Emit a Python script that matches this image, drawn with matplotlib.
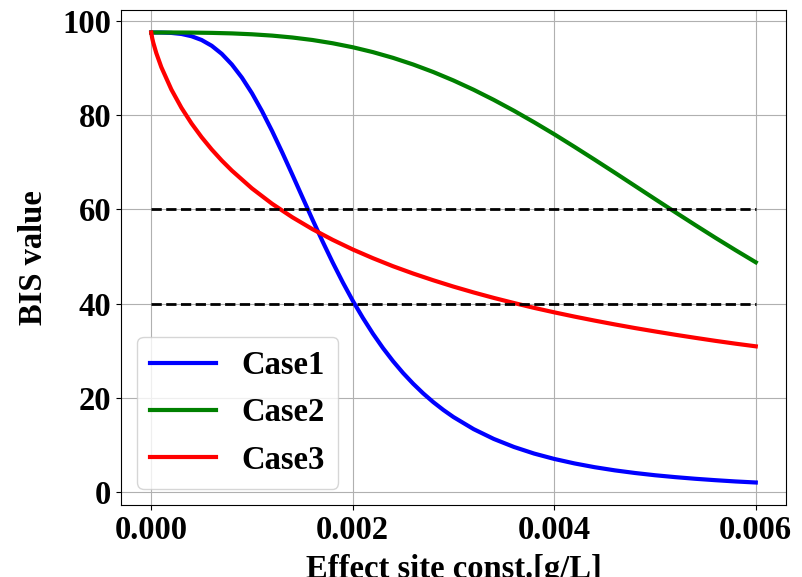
import numpy as np
import matplotlib
matplotlib.use("Agg")
import matplotlib.pyplot as plt

# effect site concentration [g/L]
conc1 = [0.0, 0.0001, 0.0002, 0.0003, 0.0004, 0.0005, 0.0006, 0.0007, 0.0008,
         0.0009, 0.0010, 0.0011, 0.0012, 0.0013, 0.0014, 0.0015, 0.0016,
         0.0017, 0.0018, 0.0019, 0.0020, 0.0021, 0.0022, 0.0023, 0.0024,
         0.0025, 0.0026, 0.0027, 0.0028, 0.0029, 0.0030, 0.0032, 0.0034,
         0.0036, 0.0038, 0.0040, 0.0042, 0.0044, 0.0046, 0.0048, 0.0050,
         0.0052, 0.0054, 0.0056, 0.0058, 0.0060]
case1 = [97.5, 97.49, 97.41, 97.19, 96.71, 95.91, 94.69, 92.97, 90.72,
         87.93, 84.61, 80.79, 76.58, 72.06, 67.36, 62.58, 57.83,
         53.20, 48.75, 44.54, 40.60, 36.97, 33.61, 30.55, 27.77,
         25.25, 22.98, 20.92, 19.07, 17.41, 15.91, 13.35, 11.27,
         9.57, 8.17, 7.03, 6.08, 5.28, 4.61, 4.05, 3.57,
         3.17, 2.82, 2.52, 2.25, 2.03]

conc2 = [0.0, 0.0002, 0.0004, 0.0006, 0.0008, 0.0010, 0.0012, 0.0014, 0.0016,
         0.0018, 0.0020, 0.0022, 0.0024, 0.0026, 0.0028, 0.0030, 0.0032,
         0.0034, 0.0036, 0.0038, 0.0040, 0.0042, 0.0044, 0.0046, 0.0048,
         0.0050, 0.0052, 0.0054, 0.0056, 0.0058, 0.0060]
case2 = [97.5, 97.50, 97.48, 97.42, 97.31, 97.12, 96.84, 96.44, 95.91,
         95.22, 94.37, 93.34, 92.12, 90.71, 89.11, 87.32, 85.35,
         83.20, 80.90, 78.46, 75.91, 73.25, 70.53, 67.77, 64.97,
         62.17, 59.39, 56.64, 53.94, 51.31, 48.75]

# case 3 drops fast at the start, so a few extra points there
conc3 = [0.0, 0.00001, 0.00002, 0.00005, 0.0001, 0.0002, 0.0003, 0.0004,
         0.0005, 0.0006, 0.0007, 0.0008, 0.0010, 0.0012, 0.0014, 0.0016,
         0.0018, 0.0020, 0.0022, 0.0024, 0.0026, 0.0028, 0.0030, 0.0032,
         0.0034, 0.0036, 0.0038, 0.0040, 0.0042, 0.0044, 0.0046, 0.0048,
         0.0050, 0.0052, 0.0054, 0.0056, 0.0058, 0.0060]
case3 = [97.5, 96.26, 95.36, 93.15, 90.16, 85.40, 81.52, 78.20,
         75.29, 72.69, 70.34, 68.21, 64.42, 61.16, 58.31, 55.78,
         53.52, 51.47, 49.62, 47.91, 46.36, 44.93, 43.59, 42.35,
         41.19, 40.11, 39.08, 38.13, 37.23, 36.38, 35.57, 34.80,
         34.08, 33.38, 32.72, 32.08, 31.48, 30.92]

bounds = [60, 40]
xticks = [0.0, 0.002, 0.004, 0.006]

plt.rcParams['font.family'] = ['Liberation Serif', 'DejaVu Serif']
plt.rcParams['font.weight'] = 'bold'
plt.rcParams['font.size'] = 23.5

fig = plt.figure(figsize=(8.03, 5.77), dpi=100)
ax = fig.add_axes([121/803, 1 - 505/577, 665/803, 495/577])

ax.plot(conc1, case1, color='blue', lw=3, label='Case1')
ax.plot(conc2, case2, color='green', lw=3, label='Case2')
ax.plot(conc3, case3, color='red', lw=3, label='Case3')
for b in bounds:
    ax.plot([0.0, 0.006], [b, b], 'k--', lw=2)

ax.set_xticks(xticks)
ax.set_xticklabels(['%.3f' % t for t in xticks])
ax.set_yticks([0, 20, 40, 60, 80, 100])
ax.grid(True)
ax.set_xlabel('Effect site const.[g/L]', fontweight='bold', labelpad=6)
ax.set_ylabel('BIS value', fontweight='bold', labelpad=10)
ax.legend(loc='lower left')

fig.savefig('out.png', dpi=100)
